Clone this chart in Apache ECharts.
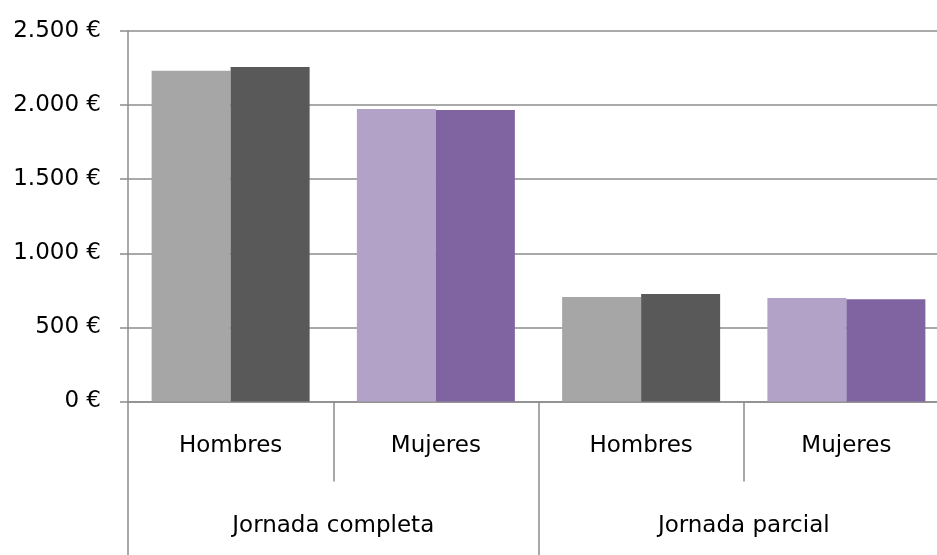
<!DOCTYPE html>
<html>
<head>
<meta charset="utf-8">
<script src="https://cdn.jsdelivr.net/npm/echarts@6/dist/echarts.min.js"></script>
<style>
html,body{margin:0;padding:0;background:#fff;overflow:hidden;width:937px;height:555px;}
#c{width:949px;height:555px;}
</style>
</head>
<body>
<div id="c"></div>
<script>
const categories = ['Hombres', 'Mujeres', 'Hombres', 'Mujeres'];
const groups = ['Jornada completa', 'Jornada parcial'];
const serieA = [2232, 1974, 705, 698];
const serieB = [2257, 1967, 725, 690];
const yTicks = [0, 500, 1000, 1500, 2000, 2500];

const lightColors = ['#a6a6a6', '#b2a2c7', '#a6a6a6', '#b2a2c7'];
const darkColors = ['#595959', '#8064a2', '#595959', '#8064a2'];
const FONT = 'DejaVu Sans';
const AXIS = '#8c8c8c';

function fmt(v) {
  return String(v).replace(/\B(?=(\d{3})+(?!\d))/g, '.') + ' €';
}

const chart = echarts.init(document.getElementById('c'));
chart.setOption({
  animation: false,
  backgroundColor: '#fff',
  grid: { left: 128, top: 31, right: 0, bottom: 153.5, containLabel: false },
  xAxis: [
    {
      type: 'category',
      data: categories,
      position: 'bottom',
      axisLine: { show: true, lineStyle: { color: AXIS, width: 1.5 } },
      axisTick: { show: true, length: 80, lineStyle: { color: AXIS, width: 1.5 } },
      axisLabel: { margin: 33, color: '#000', fontFamily: FONT, fontSize: 23 }
    },
    {
      type: 'category',
      data: groups,
      position: 'bottom',
      axisLine: { show: false },
      axisTick: { show: true, length: 160, lineStyle: { color: AXIS, width: 1.5 } },
      axisLabel: { margin: 113, color: '#000', fontFamily: FONT, fontSize: 23 }
    }
  ],
  yAxis: {
    type: 'value',
    min: 0,
    max: 2500,
    interval: 500,
    axisLine: { show: true, lineStyle: { color: AXIS, width: 1.5 } },
    axisTick: { show: true, length: 8, lineStyle: { color: AXIS, width: 1.5 } },
    splitLine: { show: true, lineStyle: { color: AXIS, width: 1.5 } },
    axisLabel: {
      margin: 27,
      color: '#000',
      fontFamily: FONT,
      fontSize: 23,
      formatter: function (v) { return yTicks.indexOf(v) >= 0 ? fmt(v) : ''; }
    }
  },
  series: [
    {
      type: 'bar',
      xAxisIndex: 0,
      barWidth: 79,
      barGap: '0%',
      data: serieA.map((v, i) => ({ value: v, itemStyle: { color: lightColors[i] } }))
    },
    {
      type: 'bar',
      xAxisIndex: 0,
      barWidth: 79,
      barGap: '0%',
      data: serieB.map((v, i) => ({ value: v, itemStyle: { color: darkColors[i] } }))
    }
  ]
});
</script>
</body>
</html>
